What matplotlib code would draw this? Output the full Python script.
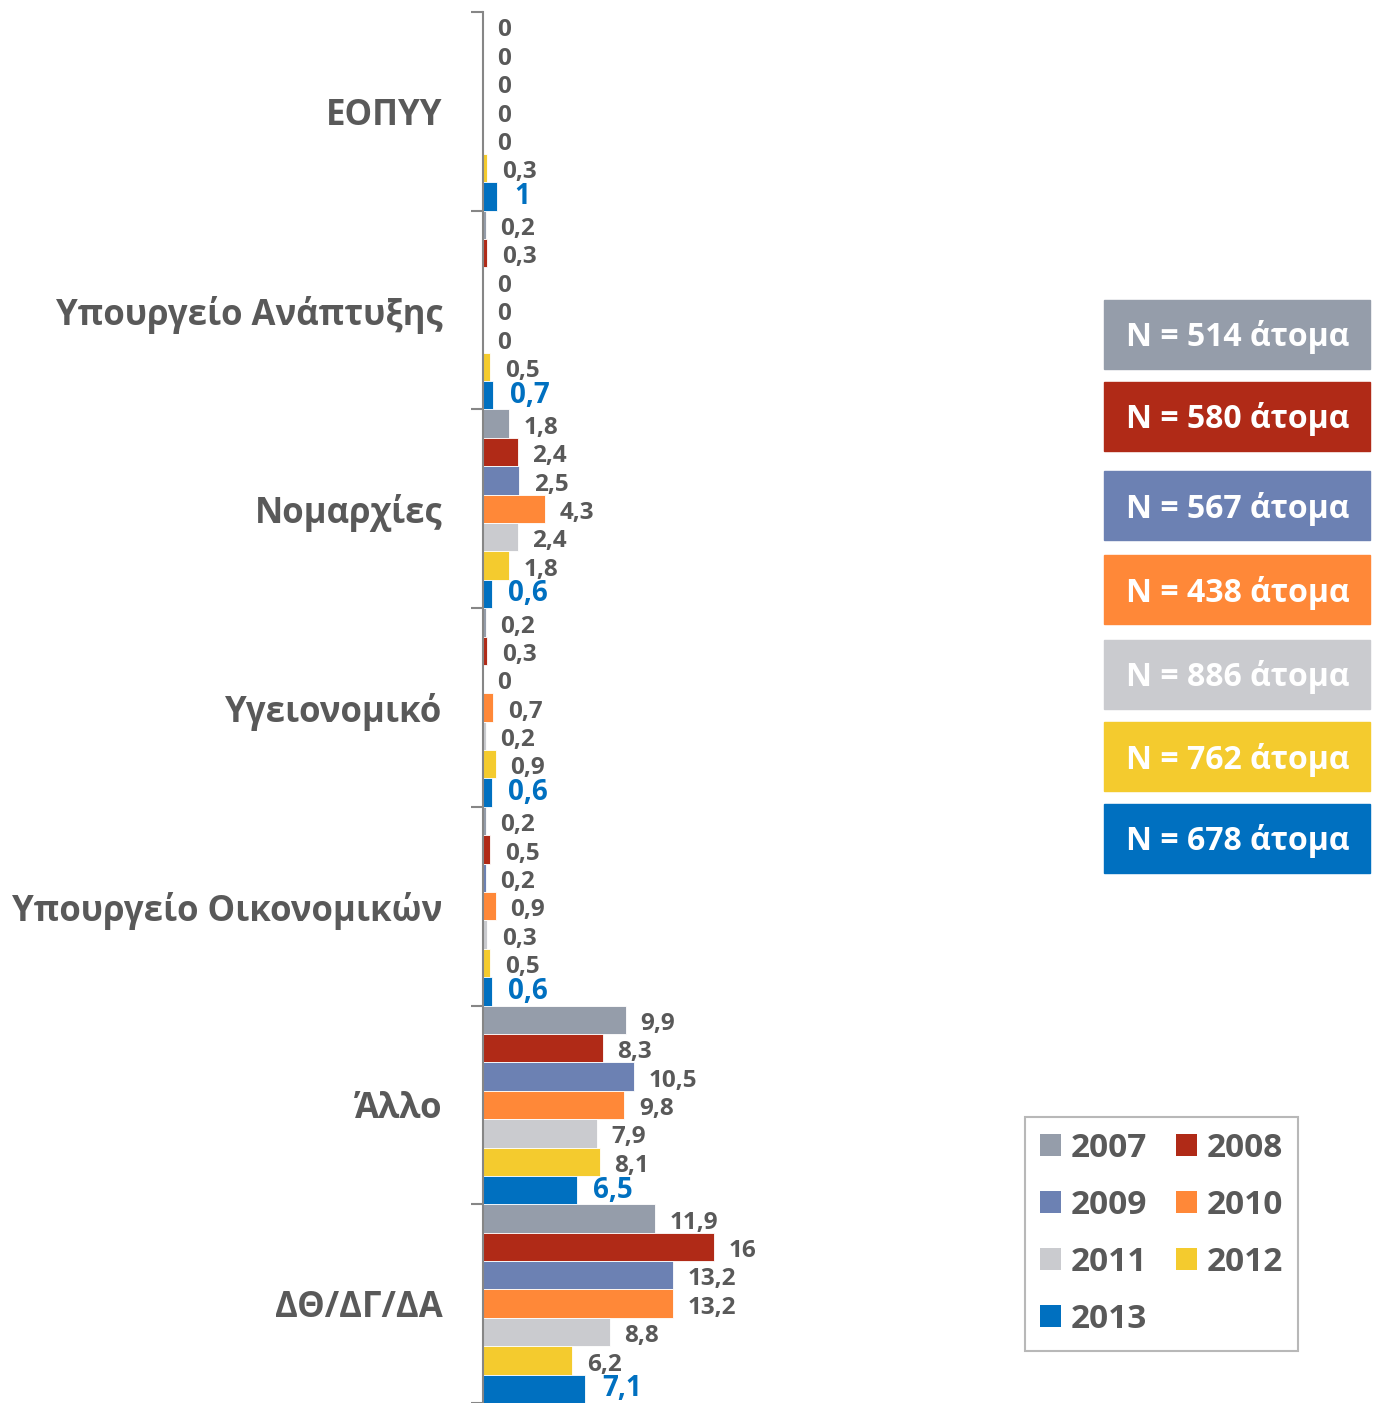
import matplotlib.pyplot as plt
from matplotlib.patches import Patch, Rectangle

plt.rcParams['font.family'] = ['Open Sans', 'DejaVu Sans']

categories = ['ΕΟΠΥΥ', 'Υπουργείο Ανάπτυξης', 'Νομαρχίες', 'Υγειονομικό',
              'Υπουργείο Οικονομικών', 'Άλλο', 'ΔΘ/ΔΓ/ΔΑ']
years = ['2007', '2008', '2009', '2010', '2011', '2012', '2013']
values = {
    '2007': [0, 0.2, 1.8, 0.2, 0.2, 9.9, 11.9],
    '2008': [0, 0.3, 2.4, 0.3, 0.5, 8.3, 16],
    '2009': [0, 0, 2.5, 0, 0.2, 10.5, 13.2],
    '2010': [0, 0, 4.3, 0.7, 0.9, 9.8, 13.2],
    '2011': [0, 0, 2.4, 0.2, 0.3, 7.9, 8.8],
    '2012': [0.3, 0.5, 1.8, 0.9, 0.5, 8.1, 6.2],
    '2013': [1, 0.7, 0.6, 0.6, 0.6, 6.5, 7.1],
}
sample_sizes = ['N = 514 άτομα', 'N = 580 άτομα', 'N = 567 άτομα', 'N = 438 άτομα',
                'N = 886 άτομα', 'N = 762 άτομα', 'N = 678 άτομα']
colors = ['#959DAA', '#B02A17', '#6C81B3', '#FF8838', '#CACBCF', '#F4CB2E', '#0070C0']

W, H = 1378, 1403
fig = plt.figure(figsize=(W / 100, H / 100), dpi=100)
ax = fig.add_axes([483 / W, 0, (1060 - 483) / W, 1 - 12 / H])

grey_txt = '#595959'
n = len(years)
h = 1 / n
for j, yr in enumerate(years):
    ys = [i + (j - (n - 1) / 2) * h for i in range(len(categories))]
    ax.barh(ys, values[yr], height=h, color=colors[j], edgecolor='white', linewidth=0.6)
    for y, v in zip(ys, values[yr]):
        lab = ('%g' % v).replace('.', ',')
        if yr == '2013':
            ax.annotate(lab, (v, y), xytext=(12, 0), textcoords='offset points',
                        ha='left', va='center', fontsize=20, fontweight='bold', color='#0070C0')
        else:
            ax.annotate(lab, (v, y), xytext=(10.5, -3), textcoords='offset points',
                        ha='left', va='center', fontsize=17.5, fontweight='bold', color=grey_txt)

ax.set_xlim(0, 40)
ax.set_ylim(len(categories) - 0.5, -0.5)
ax.set_yticks(range(len(categories)))
ax.set_yticklabels(categories)
ax.set_yticks([i - 0.5 for i in range(len(categories) + 1)], minor=True)
ax.tick_params(axis='y', which='major', length=0, pad=29, labelsize=25,
               labelcolor=grey_txt)
for t in ax.get_yticklabels():
    t.set_fontweight('bold')
ax.tick_params(axis='y', which='minor', length=9, width=1.5, color='#868686')
ax.set_xticks([])
for s in ['top', 'right', 'bottom']:
    ax.spines[s].set_visible(False)
ax.spines['left'].set_color('#868686')
ax.spines['left'].set_linewidth(1.5)

# sample size boxes
box_tops = [300, 382, 471, 555, 640, 722, 804]
for top, txt, c in zip(box_tops, sample_sizes, colors):
    bh = 69
    fig.patches.append(Rectangle((1104 / W, 1 - (top + bh) / H), 266 / W, bh / H,
                                 transform=fig.transFigure, color=c, zorder=1))
    fig.text(1238 / W, 1 - (top + bh / 2 + 3) / H, txt, ha='center', va='center',
             color='white', fontsize=23, fontweight='bold', zorder=2)

handles = [Patch(facecolor=c, label=y) for c, y in zip(colors, years)]
order = [0, 2, 4, 6, 1, 3, 5]
leg = fig.legend([handles[i] for i in order], [years[i] for i in order], ncol=2,
                 loc='upper left', bbox_to_anchor=(1025 / W, 1 - 1117 / H),
                 borderaxespad=0, frameon=True, fancybox=False, edgecolor='#A6A6A6',
                 prop={'size': 24, 'weight': 'bold'}, handlelength=0.62,
                 handleheight=0.62, handletextpad=0.3, columnspacing=0.88,
                 labelspacing=0.72, borderpad=0.45)
for t in leg.get_texts():
    t.set_color(grey_txt)
leg.get_frame().set_linewidth(1.5)

fig.savefig('out.png', dpi=100)
